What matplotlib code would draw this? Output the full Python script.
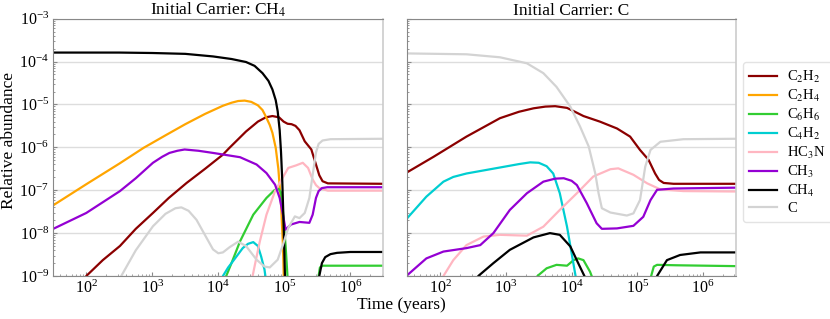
import numpy as np
import matplotlib
matplotlib.use("Agg")
import matplotlib.pyplot as plt

# (log10 time [yr], log10 relative abundance); None = gap
species = ["C2H2", "C2H4", "C6H6", "C4H2", "HC3N", "CH3", "CH4", "C"]
labels = ["C$_2$H$_2$", "C$_2$H$_4$", "C$_6$H$_6$", "C$_4$H$_2$",
          "HC$_3$N", "CH$_3$", "CH$_4$", "C"]
colors = ["#8b0000", "#ffa500", "#32cd32", "#00ced1",
          "#ffb6c1", "#9400d3", "#000000", "#d3d3d3"]
titles = ["Initial Carrier: CH$_4$", "Initial Carrier: C"]

left_c2h2 = [(1.95, -9.3), (2.0, -9.0), (2.25, -8.63), (2.51, -8.3), (2.75, -7.9),
             (3.01, -7.53), (3.25, -7.18), (3.52, -6.83), (3.8, -6.5), (4.07, -6.17),
             (4.17, -6.01), (4.42, -5.63), (4.6, -5.4), (4.72, -5.3), (4.82, -5.27),
             (4.92, -5.30), (4.99, -5.40), (5.05, -5.45), (5.11, -5.46), (5.17, -5.5),
             (5.23, -5.6), (5.31, -5.86), (5.41, -6.05), (5.48, -6.40), (5.53, -6.65),
             (5.58, -6.79), (5.66, -6.84), (6.5, -6.85)]
left_c2h4 = [(1.5, -7.35), (2.0, -6.86), (2.5, -6.38), (2.87, -6.01), (3.2, -5.72),
             (3.5, -5.46), (3.8, -5.22), (4.07, -5.03), (4.2, -4.96), (4.3, -4.92),
             (4.4, -4.91), (4.5, -4.94), (4.6, -5.02), (4.67, -5.13), (4.72, -5.28),
             (4.78, -5.48), (4.82, -5.66), (4.87, -6.01), (4.91, -6.5), (4.95, -7.3),
             (4.98, -8.3), (5.0, -9.5)]
left_c6h6 = [(4.08, -9.3), (4.12, -9.0), (4.2, -8.7), (4.33, -8.19), (4.53, -7.57),
             (4.73, -7.18), (4.85, -7.0), (4.91, -6.96), (4.95, -7.05), (4.98, -7.5),
             (5.02, -8.3), (5.06, -9.3), None,
             (5.49, -9.3), (5.52, -9.0), (5.54, -8.8), (5.58, -8.76), (6.5, -8.76)]
left_c4h2 = [(4.03, -9.3), (4.07, -9.0), (4.15, -8.8), (4.22, -8.66), (4.37, -8.35),
             (4.45, -8.25), (4.53, -8.21), (4.6, -8.3), (4.65, -8.55), (4.7, -8.85),
             (4.74, -9.3)]
left_hc3n = [(4.48, -9.3), (4.52, -9.0), (4.58, -8.55), (4.63, -8.19), (4.73, -7.57),
             (4.86, -7.02), (4.96, -6.75), (5.06, -6.48), (5.18, -6.42), (5.28, -6.36),
             (5.36, -6.48), (5.43, -6.75), (5.48, -6.88), (5.53, -6.95), (5.66, -7.01),
             (6.5, -7.01)]
left_ch3 = [(1.5, -7.9), (2.0, -7.53), (2.51, -7.02), (2.75, -6.72), (3.01, -6.36),
            (3.15, -6.22), (3.26, -6.13), (3.38, -6.08), (3.49, -6.05), (3.7, -6.08),
            (3.92, -6.13), (4.33, -6.23), (4.58, -6.40), (4.73, -6.60), (4.86, -6.87),
            (4.93, -7.18), (4.98, -7.57), (5.02, -7.92), (5.1, -7.80), (5.23, -7.74),
            (5.38, -7.76), (5.43, -7.57), (5.48, -7.18), (5.52, -7.02), (5.57, -6.95),
            (5.65, -6.93), (6.5, -6.93)]
left_ch4 = [(1.5, -3.79), (2.5, -3.79), (3.0, -3.80), (3.5, -3.82), (3.92, -3.88),
            (4.2, -3.94), (4.42, -4.01), (4.55, -4.10), (4.67, -4.27), (4.76, -4.45),
            (4.82, -4.65), (4.87, -4.90), (4.9, -5.16), (4.93, -5.6), (4.95, -6.1),
            (4.97, -6.8), (4.99, -7.8), (5.01, -9.0), (5.02, -9.5), None,
            (5.50, -9.5), (5.53, -9.0), (5.57, -8.7), (5.62, -8.56), (5.7, -8.49),
            (5.8, -8.46), (6.0, -8.44), (6.5, -8.44)]
left_c = [(2.45, -9.3), (2.53, -9.0), (2.75, -8.4), (3.01, -7.84), (3.2, -7.55),
          (3.35, -7.42), (3.44, -7.40), (3.55, -7.48), (3.67, -7.69), (3.8, -8.05),
          (3.92, -8.38), (4.0, -8.47), (4.07, -8.45), (4.17, -8.33), (4.3, -8.2),
          (4.42, -8.3), (4.58, -8.62), (4.7, -8.78), (4.78, -8.80), (4.9, -8.62),
          (4.98, -8.27), (5.06, -7.88), (5.16, -7.61), (5.23, -7.65), (5.31, -7.53),
          (5.38, -7.18), (5.43, -6.64), (5.48, -6.12), (5.52, -5.92), (5.58, -5.84),
          (5.7, -5.81), (6.5, -5.80)]

right_c2h2 = [(1.5, -6.58), (1.9, -6.22), (2.4, -5.75), (2.91, -5.32), (3.2, -5.17),
              (3.42, -5.09), (3.6, -5.05), (3.75, -5.04), (3.93, -5.08), (4.05, -5.17),
              (4.18, -5.27), (4.43, -5.40), (4.69, -5.56), (4.89, -5.75), (5.04, -6.06),
              (5.17, -6.29), (5.27, -6.61), (5.33, -6.76), (5.4, -6.83), (5.55, -6.85),
              (6.5, -6.85)]
right_c2h4 = []
right_c6h6 = [(3.44, -9.3), (3.48, -9.0), (3.62, -8.82), (3.77, -8.74), (3.93, -8.76),
              (4.03, -8.63), (4.1, -8.59), (4.18, -8.63), (4.28, -8.9), (4.33, -9.1),
              (4.36, -9.3), None,
              (5.19, -9.3), (5.21, -9.0), (5.25, -8.78), (5.3, -8.74), (5.6, -8.75),
              (6.5, -8.77)]
right_c4h2 = [(1.5, -7.65), (1.79, -7.15), (2.05, -6.80), (2.2, -6.69), (2.4, -6.61),
              (2.91, -6.47), (3.2, -6.39), (3.37, -6.35), (3.5, -6.36), (3.62, -6.44),
              (3.72, -6.61), (3.82, -7.07), (3.93, -7.85), (4.0, -8.47), (4.06, -9.0),
              (4.1, -9.3)]
right_hc3n = [(2.02, -9.3), (2.05, -9.0), (2.2, -8.63), (2.4, -8.28), (2.66, -8.08),
              (2.91, -8.04), (3.32, -8.06), (3.57, -7.85), (3.82, -7.46), (4.08, -7.07),
              (4.33, -6.68), (4.59, -6.51), (4.71, -6.49), (4.94, -6.64), (5.15, -6.84),
              (5.35, -6.98), (5.7, -7.02), (6.5, -7.03)]
right_ch3 = [(1.5, -8.98), (1.79, -8.59), (2.05, -8.43), (2.4, -8.35), (2.61, -8.28),
             (2.81, -8.0), (3.06, -7.46), (3.32, -7.07), (3.57, -6.80), (3.75, -6.73),
             (3.88, -6.72), (4.0, -6.78), (4.08, -6.88), (4.23, -7.30), (4.38, -7.77),
             (4.46, -7.90), (4.69, -7.89), (4.94, -7.83), (5.09, -7.62), (5.2, -7.23),
             (5.3, -6.99), (5.55, -6.96), (6.5, -6.94)]
right_ch4 = [(2.54, -9.3), (2.58, -9.0), (2.81, -8.70), (3.06, -8.39), (3.42, -8.10),
             (3.67, -8.0), (3.82, -8.04), (3.98, -8.31), (4.1, -8.70), (4.21, -9.05),
             (4.24, -9.3), None,
             (5.27, -9.3), (5.3, -9.0), (5.45, -8.63), (5.65, -8.51), (5.96, -8.45),
             (6.5, -8.45)]
right_c = [(1.5, -3.81), (2.4, -3.83), (2.91, -3.90), (3.32, -4.04), (3.57, -4.27),
           (3.77, -4.59), (3.98, -5.05), (4.13, -5.52), (4.26, -5.98), (4.36, -6.61),
           (4.41, -7.07), (4.46, -7.42), (4.59, -7.52), (4.84, -7.59), (4.94, -7.54),
           (5.04, -7.23), (5.12, -6.45), (5.2, -6.06), (5.35, -5.87), (5.7, -5.81),
           (6.5, -5.80)]

left_curves = [left_c2h2, left_c2h4, left_c6h6, left_c4h2,
               left_hc3n, left_ch3, left_ch4, left_c]
right_curves = [right_c2h2, right_c2h4, right_c6h6, right_c4h2,
                right_hc3n, right_ch3, right_ch4, right_c]


def to_xy(points):
    t, y = [], []
    for p in points:
        if p is None:
            t.append(np.nan)
            y.append(np.nan)
        else:
            t.append(10 ** p[0])
            y.append(10 ** p[1])
    return np.array(t), np.array(y)


plt.rcParams["font.family"] = ["Liberation Serif", "DejaVu Serif"]
plt.rcParams["mathtext.fontset"] = "stix"

fig = plt.figure(figsize=(8.3, 3.19), dpi=100)
ax_left = fig.add_axes([0.0642, 0.1348, 0.3976, 0.8066])
ax_right = fig.add_axes([0.4907, 0.1348, 0.3960, 0.8066], sharey=ax_left)

for ax, curves, title in zip([ax_left, ax_right], [left_curves, right_curves], titles):
    for points, color, label in zip(curves, colors, labels):
        t, y = to_xy(points)
        ax.plot(t, y, color=color, lw=1.6, label=label)
    ax.set_xscale("log")
    ax.set_yscale("log")
    ax.set_xlim(10 ** 1.5, 10 ** 6.5)
    ax.set_ylim(1e-9, 1e-3)
    ax.set_title(title, fontsize=12.5, pad=2)
    ax.yaxis.grid(True, which="major", color="#dddddd", lw=1)
    ax.set_axisbelow(True)
    ax.tick_params(which="both", direction="in", colors="#888888",
                   labelcolor="black", labelsize=11.5)
    ax.tick_params(which="major", length=3, pad=3)
    ax.tick_params(which="minor", length=1.5)
    for side in ["top", "left", "bottom"]:
        ax.spines[side].set_color("#888888")
    ax.spines["right"].set_color("#cccccc")
    ax.spines["right"].set_linewidth(1.2)

ax_right.tick_params(labelleft=False)
fig.text(0.011, 0.558, "Relative abundance", rotation=90,
         ha="center", va="center", fontsize=12.5)
fig.text(0.484, 0.045, "Time (years)", ha="center", va="center", fontsize=12.5)

handles, lbls = ax_left.get_legend_handles_labels()
fig.legend(handles, lbls, loc="center left", bbox_to_anchor=(0.895, 0.555),
           fontsize=10.5, frameon=True, edgecolor="#dddddd", handlelength=1.9,
           handletextpad=0.7, labelspacing=0.2, borderpad=0.45, borderaxespad=0)

fig.savefig("out.png", dpi=100)
